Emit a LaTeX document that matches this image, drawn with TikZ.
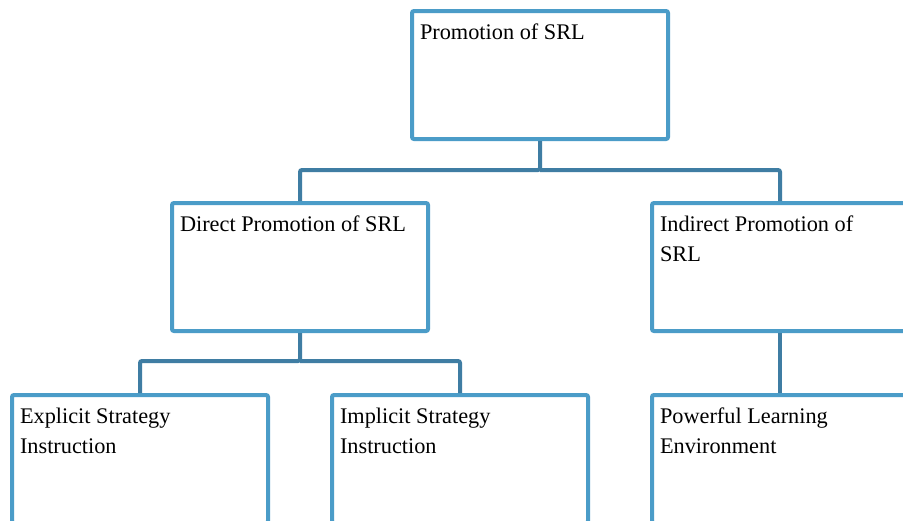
\documentclass[tikz,border=0pt]{standalone}
\usepackage{fontspec}
\setmainfont{Liberation Serif}
\definecolor{boxblue}{HTML}{4B9CC8}
\definecolor{connblue}{HTML}{3F7DA3}
\begin{document}
\begin{tikzpicture}[x=1pt,y=-1pt,
  box/.style={draw=boxblue, line width=4pt, rounded corners=2pt, fill=white,
    anchor=north west, inner xsep=8pt, inner ysep=7pt,
    minimum width=256pt, minimum height=128pt,
    font=\fontsize{22.3}{30}\selectfont},
  conn/.style={draw=connblue, line width=4pt, rounded corners=2pt}]
\useasboundingbox (0,0) rectangle (903,520);
\clip (0,0) rectangle (903,520);
\fill[white] (0,0) rectangle (903,520);
\newcommand{\boxtext}[1]{\parbox[t][114pt][t]{240pt}{\raggedright\strut #1}}
\node[box] (top) at (410,9) {\boxtext{Promotion of SRL}};
\node[box] (direct) at (170,201) {\boxtext{Direct Promotion of SRL}};
\node[box] (indirect) at (650,201) {\boxtext{Indirect Promotion of\\SRL}};
\node[box] (explicit) at (10,393) {\boxtext{Explicit Strategy\\Instruction}};
\node[box] (implicit) at (330,393) {\boxtext{Implicit Strategy\\Instruction}};
\node[box] (powerful) at (650,393) {\boxtext{Powerful Learning\\Environment}};
\coordinate (bus1) at (0,170);
\coordinate (bus2) at (0,361);
\draw[conn] (top.south) -- (top.south |- bus1) -| (direct.north);
\draw[conn] (top.south |- bus1) -| (indirect.north);
\draw[conn] (direct.south) -- (direct.south |- bus2) -| (explicit.north);
\draw[conn] (direct.south |- bus2) -| (implicit.north);
\draw[conn] (indirect.south) -- (powerful.north);
\end{tikzpicture}
\end{document}
